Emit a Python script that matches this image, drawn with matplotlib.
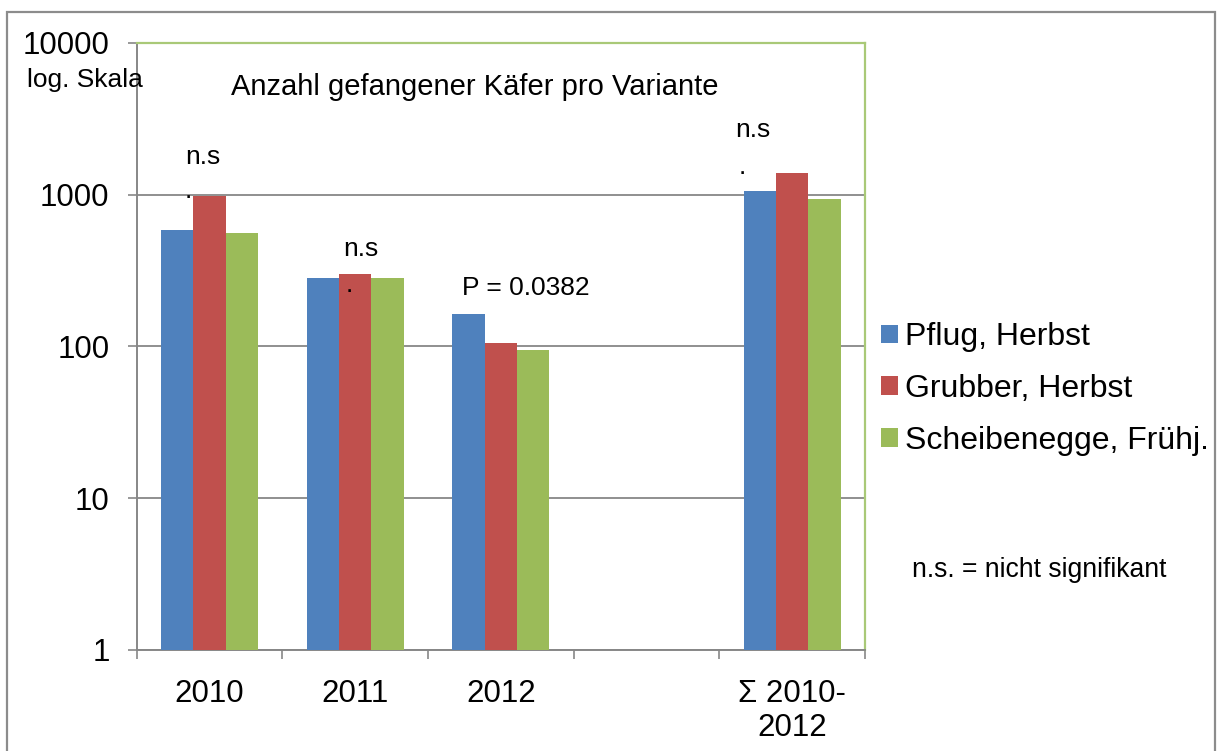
import numpy as np
import matplotlib.pyplot as plt
from matplotlib.patches import Rectangle

plt.rcParams['font.family'] = ['Liberation Sans', 'DejaVu Sans']

# data (log scale)
categories = ['2010', '2011', '2012', '', 'Σ 2010-\n2012']
series_names = ['Pflug, Herbst', 'Grubber, Herbst', 'Scheibenegge, Frühj.']
pflug = [585, 284, 163, None, 1057]
grubber = [984, 300, 105, None, 1394]
scheibe = [556, 281, 95, None, 935]
colors = ['#4F81BD', '#C0504D', '#9BBB59']

GRID = '#878787'
fig = plt.figure(figsize=(12.19, 7.51), dpi=100)
ax = fig.add_axes([0.1121, 0.1345, 0.5975, 0.8086])

# Bars
w = 0.2225
x = np.arange(len(categories))
for k, (vals, name, col) in enumerate(zip([pflug, grubber, scheibe], series_names, colors)):
    idx = [i for i, v in enumerate(vals) if v is not None]
    ax.bar(x[idx] + (k - 1) * w, [vals[i] for i in idx], width=w, color=col,
           label=name, zorder=3)

ax.set_yscale('log')
ax.set_ylim(1, 10000)
ax.set_xlim(-0.5, len(categories) - 0.5)

# Y axis
ax.set_yticks([1, 10, 100, 1000, 10000])
ax.set_yticklabels(['1', '10', '100', '1000', '10000'])
ax.yaxis.set_minor_locator(plt.NullLocator())
ax.tick_params(axis='y', which='major', length=6.5, width=1.2, color=GRID,
               labelsize=22.5, pad=13)
ax.grid(axis='y', which='major', color=GRID, linewidth=1.3, zorder=0)

# X axis: labels at centers, ticks at slot boundaries
ax.set_xticks(x)
ax.set_xticklabels(categories, fontsize=22.5, linespacing=1.15)
ax.set_xticks(np.arange(-0.5, len(categories)), minor=True)
ax.tick_params(axis='x', which='major', length=0, pad=21)
ax.tick_params(axis='x', which='minor', length=6.5, width=1.2, color=GRID)

for s in ['left', 'bottom']:
    ax.spines[s].set_color(GRID)
    ax.spines[s].set_linewidth(1.4)
for s in ['top', 'right']:
    ax.spines[s].set_color('#A9C977')
    ax.spines[s].set_linewidth(1.6)

# annotations
ax.text(0.4645, 0.927, 'Anzahl gefangener Käfer pro Variante', transform=ax.transAxes,
        ha='center', va='center', fontsize=21)
fs = 19
ax.text(-0.168, 1770, 'n.s', fontsize=fs, va='center', ha='left')
ax.text(-0.168, 1057, '.', fontsize=fs, va='center', ha='left')
ax.text(0.917, 438, 'n.s', fontsize=fs, va='center', ha='left')
ax.text(0.9375, 254, '.', fontsize=fs, va='center', ha='left', zorder=5)
ax.text(1.734, 243, 'P = 0.0382', fontsize=fs, va='center', ha='left')
ax.text(3.609, 2666, 'n.s', fontsize=fs, va='center', ha='left')
ax.text(3.63, 1520, '.', fontsize=fs, va='center', ha='left')

fig.text(0.0697, 0.8935, 'log. Skala', ha='center', va='center', fontsize=19)
fig.text(0.748, 1 - 570 / 751, 'n.s. = nicht signifikant', ha='left', va='center',
         fontsize=19.1)

fig.legend(loc='center left', bbox_to_anchor=(0.7227, 1 - 389 / 751), frameon=False,
           fontsize=23, handlelength=0.53, handleheight=0.53, handletextpad=0.22,
           labelspacing=0.68, borderpad=0, borderaxespad=0)

# outer chart border
fig.patches.append(Rectangle((7 / 1219, -0.02), 1208 / 1219, 1.02 - 12 / 751,
                             transform=fig.transFigure, fill=False,
                             edgecolor='#8C8C8C', linewidth=1.6))

fig.savefig('out.png', dpi=100)
